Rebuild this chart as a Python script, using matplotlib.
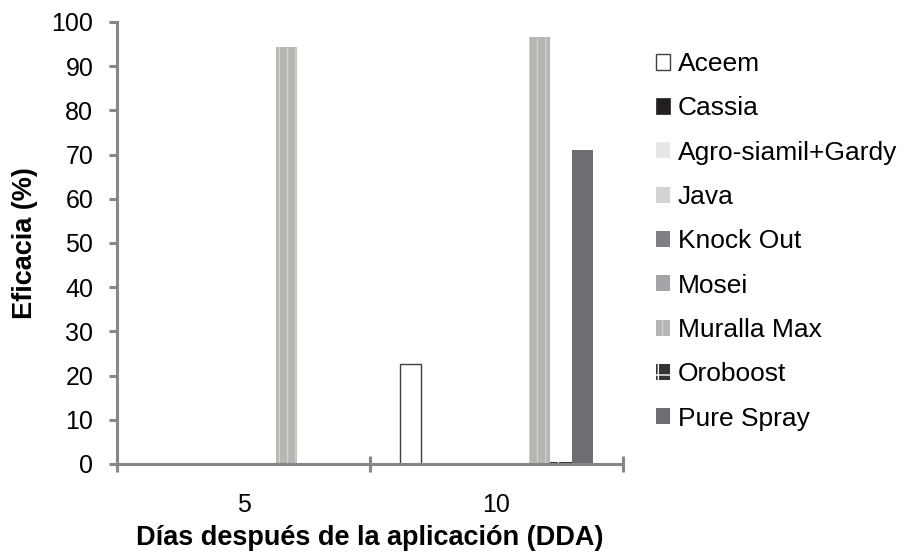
import matplotlib.pyplot as plt
import numpy as np

plt.rcParams['font.family'] = ['Liberation Sans', 'DejaVu Sans']

days = ['5', '10']
products = ['Aceem', 'Cassia', 'Agro-siamil+Gardy', 'Java', 'Knock Out',
            'Mosei', 'Muralla Max', 'Oroboost', 'Pure Spray']
aceem = [0, 22.7]
cassia = [0, 0]
agro = [0, 0]
java = [0, 0]
knock_out = [0, 0]
mosei = [0, 0]
muralla = [94.4, 96.7]
oroboost = [0, 0.4]
pure_spray = [0, 71.0]
series = [aceem, cassia, agro, java, knock_out, mosei, muralla, oroboost, pure_spray]

styles = [
    dict(color='white', edgecolor='#404040', linewidth=1.0),
    dict(color='#231f20', edgecolor='#231f20', linewidth=0.5),
    dict(color='#e6e7e8', edgecolor='#e6e7e8', linewidth=0),
    dict(color='#d1d3d4', edgecolor='#d1d3d4', linewidth=0),
    dict(color='#7d7f83', edgecolor='#7d7f83', linewidth=0),
    dict(color='#a2a4a8', edgecolor='#a2a4a8', linewidth=0),
    dict(color='#b3b6b4', edgecolor='#d3d5bd', linewidth=0, hatch='||'),
    dict(color='#333333', edgecolor='white', linewidth=0, hatch='+'),
    dict(color='#6d6e71', edgecolor='#6d6e71', linewidth=0),
]

fig = plt.figure(figsize=(9.11, 5.54), dpi=100)
ax = fig.add_axes([0.1284, 0.1625, 0.5555, 0.7978])

x = np.arange(len(days))
w = 0.0848
for i, (vals, st) in enumerate(zip(series, styles)):
    ax.bar(x + (i - 4) * w, vals, w, label=products[i], **st)

ax.set_xlim(-0.5, 1.5)
ax.set_ylim(0, 100)
ax.set_yticks(range(0, 101, 10))
ax.set_xticks([0, 1])
ax.set_xticklabels(days)
ax.set_xticks([-0.5, 0.5, 1.5], minor=True)
ax.tick_params(axis='x', which='major', length=0, labelsize=18, pad=21)
ax.tick_params(axis='x', which='minor', length=12, width=2.2, color='#878787', direction='inout')
ax.tick_params(axis='y', length=6, width=2.2, color='#878787', labelsize=18, pad=11)

for side in ['top', 'right']:
    ax.spines[side].set_visible(False)
for side in ['left', 'bottom']:
    ax.spines[side].set_color('#878787')
    ax.spines[side].set_linewidth(2.2)

ax.set_ylabel('Eficacia (%)', fontsize=19.5, fontweight='bold', labelpad=10)
ax.set_xlabel('Días después de la aplicación (DDA)', fontsize=19.5, fontweight='bold', labelpad=6)

fig.legend(loc='upper left', bbox_to_anchor=(0.708, 0.925), frameon=False,
           fontsize=19, handlelength=0.55, handleheight=0.55, handletextpad=0.3,
           labelspacing=0.77, borderaxespad=0)

fig.savefig('out.png', dpi=100)
